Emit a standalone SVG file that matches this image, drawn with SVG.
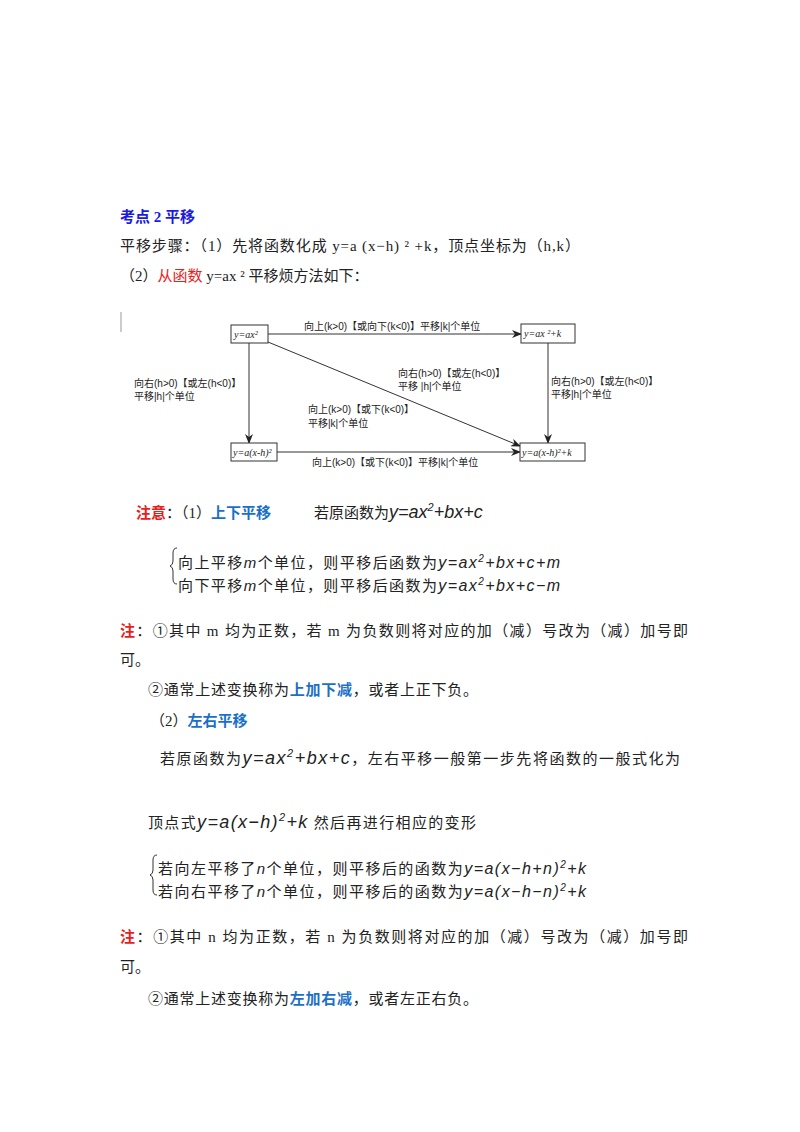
<svg xmlns="http://www.w3.org/2000/svg" width="800" height="1132" viewBox="0 0 800 1132">
<defs>
<marker id="ah" markerWidth="10" markerHeight="8" refX="9" refY="4" orient="auto" markerUnits="userSpaceOnUse"><path d="M0,0 L10,4 L0,8 L3,4 Z" fill="#222"/></marker>
<style>
text{font-family:"Liberation Serif","Noto Sans CJK SC",serif;fill:#222}
.t{font-size:15px}
.d{font-size:10px;font-family:"Liberation Sans","Noto Sans CJK SC",sans-serif}
.b{font-size:10px;font-style:italic}
.m{font-style:italic;font-family:"Liberation Sans",sans-serif}
.node rect{fill:#fff;stroke:#333;stroke-width:1}
.c line{stroke:#333;stroke-width:1;marker-end:url(#ah)}
</style>
</defs>
<rect width="800" height="1132" fill="#fff"/>
<text x="120" y="222" font-size="15" font-weight="bold" style="fill:#1a1ae0">考点 2  平移</text>
<text x="120" y="251" class="t" textLength="460">平移步骤：（1）先将函数化成 y=a (x−h) ² +k，顶点坐标为（h,k）</text>
<text x="120" y="281" class="t">（2）<tspan style="fill:#e8201a">从函数</tspan> y=ax ² 平移烦方法如下：</text>
<rect x="120" y="312" width="2" height="20" fill="#ccc"/>
<g class="c">
<line x1="268" y1="334" x2="521" y2="334"/>
<line x1="249" y1="343" x2="249" y2="443"/>
<line x1="548" y1="343" x2="548" y2="443"/>
<line x1="277" y1="452" x2="520" y2="452"/>
<line x1="268" y1="342" x2="520" y2="446"/>
</g>
<g id="n1" class="node"><rect x="231" y="325" width="37" height="18"/><text x="234" y="338" class="b">y=ax²</text></g>
<g id="n2" class="node"><rect x="521" y="324" width="54" height="19"/><text x="524" y="337" class="b">y=ax ²+k</text></g>
<g id="n3" class="node"><rect x="231" y="443" width="46" height="18"/><text x="233" y="456" class="b">y=a(x-h)²</text></g>
<g id="n4" class="node"><rect x="520" y="443" width="65" height="18"/><text x="522" y="456" class="b">y=a(x-h)²+k</text></g>
<text x="304" y="330" class="d">向上(k&gt;0)【或向下(k&lt;0)】平移|k|个单位</text>
<text x="134" y="387" class="d">向右(h&gt;0)【或左(h&lt;0)】</text>
<text x="134" y="400" class="d">平移|h|个单位</text>
<text x="398" y="377" class="d">向右(h&gt;0)【或左(h&lt;0)】</text>
<text x="398" y="390" class="d">平移 |h|个单位</text>
<text x="308" y="413" class="d">向上(k&gt;0)【或下(k&lt;0)】</text>
<text x="308" y="427" class="d">平移|k|个单位</text>
<text x="551" y="385" class="d">向右(h&gt;0)【或左(h&lt;0)】</text>
<text x="551" y="398" class="d">平移|h|个单位</text>
<text x="312" y="466" class="d">向上(k&gt;0)【或下(k&lt;0)】平移|k|个单位</text>
<text x="136" y="518" class="t"><tspan style="fill:#e8201a;font-weight:bold">注意</tspan>：（1）<tspan style="fill:#1a6fc9;font-weight:bold">上下平移</tspan></text>
<text x="314" y="518" class="t">若原函数为<tspan class="m" font-size="18">y=ax</tspan><tspan class="m" font-size="11" dy="-7">2</tspan><tspan class="m" font-size="18" dy="7">+bx+c</tspan></text>
<path d="M177,548 q-4,0 -4,5 v8 q0,4 -3,5 q3,1 3,5 v8 q0,5 4,5" fill="none" stroke="#333"/>
<text x="178" y="568" class="t" textLength="382">向上平移<tspan class="m">m</tspan>个单位，则平移后函数为<tspan class="m" font-size="16">y=ax</tspan><tspan class="m" font-size="10" dy="-6">2</tspan><tspan class="m" font-size="16" dy="6">+bx+c+m</tspan></text>
<text x="178" y="591" class="t" textLength="382">向下平移<tspan class="m">m</tspan>个单位，则平移后函数为<tspan class="m" font-size="16">y=ax</tspan><tspan class="m" font-size="10" dy="-6">2</tspan><tspan class="m" font-size="16" dy="6">+bx+c−m</tspan></text>
<text x="120" y="636" class="t" textLength="568"><tspan style="fill:#e8201a;font-weight:bold">注</tspan>：①其中 m 均为正数，若 m 为负数则将对应的加（减）号改为（减）加号即</text>
<text x="120" y="665" class="t">可。</text>
<text x="148" y="695" class="t" textLength="330">②通常上述变换称为<tspan style="fill:#1a6fc9;font-weight:bold">上加下减</tspan>，或者上正下负。</text>
<text x="150" y="726" class="t">（2）<tspan style="fill:#1a6fc9;font-weight:bold">左右平移</tspan></text>
<text x="160" y="764" class="t" textLength="520">若原函数为<tspan class="m" font-size="18">y=ax</tspan><tspan class="m" font-size="11" dy="-7">2</tspan><tspan class="m" font-size="18" dy="7">+bx+c</tspan>，左右平移一般第一步先将函数的一般式化为</text>
<text x="148" y="828" class="t" textLength="328">顶点式<tspan class="m" font-size="18">y=a(x−h)</tspan><tspan class="m" font-size="11" dy="-7">2</tspan><tspan class="m" font-size="18" dy="7">+k</tspan> 然后再进行相应的变形</text>
<path d="M157,855 q-4,0 -4,5 v10 q0,4 -3,5 q3,1 3,5 v10 q0,5 4,5" fill="none" stroke="#333"/>
<text x="158" y="874" class="t" textLength="428">若向左平移了<tspan class="m">n</tspan>个单位，则平移后的函数为<tspan class="m" font-size="16">y=a(x−h+n)</tspan><tspan class="m" font-size="10" dy="-6">2</tspan><tspan class="m" font-size="16" dy="6">+k</tspan></text>
<text x="158" y="897" class="t" textLength="428">若向右平移了<tspan class="m">n</tspan>个单位，则平移后的函数为<tspan class="m" font-size="16">y=a(x−h−n)</tspan><tspan class="m" font-size="10" dy="-6">2</tspan><tspan class="m" font-size="16" dy="6">+k</tspan></text>
<text x="120" y="942" class="t" textLength="568"><tspan style="fill:#e8201a;font-weight:bold">注</tspan>：①其中 n 均为正数，若 n 为负数则将对应的加（减）号改为（减）加号即</text>
<text x="120" y="972" class="t">可。</text>
<text x="148" y="1004" class="t" textLength="330">②通常上述变换称为<tspan style="fill:#1a6fc9;font-weight:bold">左加右减</tspan>，或者左正右负。</text>
</svg>
